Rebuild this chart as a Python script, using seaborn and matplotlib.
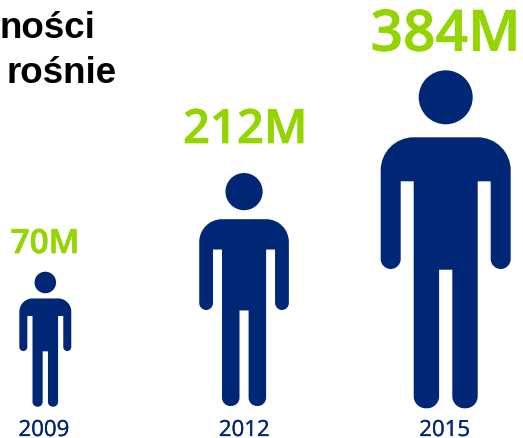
import numpy as np
import matplotlib
matplotlib.use('Agg')
import matplotlib.pyplot as plt
import matplotlib.patheffects as pe
import seaborn as sns
from matplotlib.path import Path
from matplotlib.patches import PathPatch

# values
years = ['2009', '2012', '2015']
labels = ['70M', '212M', '384M']
icon_heights = [135, 233, 338]  # drawn size of each figure, px

label_sizes = [24, 34, 41]
label_gaps = [18.7, 30, 19.6]
foot_shift = [0.3, 1, -1.3]
x_shift = [0.3, -1.3, 0]
navy = '#002776'
green = '#93D500'

W, H = 523, 439
BASE_Y = 408  # feet, px from top
X0, X2 = 45.0, 445.7
PX_PER_CAT = (X2 - X0) / 2


def rounded_poly(pts):
    # pts = (x, y, radius), closed polygon with rounded corners
    verts, codes = [], []
    n = len(pts)
    k = 0.5523
    for i in range(n):
        p = np.array(pts[i][:2], float)
        r = pts[i][2]
        a = np.array(pts[i - 1][:2], float)
        b = np.array(pts[(i + 1) % n][:2], float)
        if r == 0:
            verts.append(p)
            codes.append(Path.MOVETO if i == 0 else Path.LINETO)
            continue
        u = (a - p) / np.linalg.norm(a - p)
        v = (b - p) / np.linalg.norm(b - p)
        verts.append(p + u * r)
        codes.append(Path.MOVETO if i == 0 else Path.LINETO)
        verts += [p + u * r * (1 - k), p + v * r * (1 - k), p + v * r]
        codes += [Path.CURVE4] * 3
    verts.append(verts[0])
    codes.append(Path.CLOSEPOLY)
    return np.array(verts), codes


# outline of the figure at the height of the biggest one (338 px)
body = [(-65, 271, 33), (65, 271, 33), (65, 139.3, 10), (45, 139.3, 10),
        (45, 227, 0), (32, 227, 0), (32, 0, 12), (6.6, 0, 12), (6.6, 138.6, 0),
        (-6.6, 138.6, 0), (-6.6, 0, 12), (-32, 0, 12), (-32, 227, 0),
        (-45, 227, 0), (-45, 139.3, 10), (-65, 139.3, 10)]


def person_path(cx, base, height):
    s = height / 338
    v, c = rounded_poly(body)
    circle = Path.unit_circle()
    hv = circle.vertices * 27 + [0, 311]
    allv = np.vstack([v, hv]) * s
    allv[:, 0] = cx + allv[:, 0] / PX_PER_CAT
    allv[:, 1] = base + allv[:, 1]
    return Path(allv, list(c) + list(circle.codes))


sns.set_theme(style='white')
plt.rcParams['font.family'] = ['Open Sans', 'DejaVu Sans']

fig = plt.figure(figsize=(W / 100, H / 100), dpi=100)
ax = fig.add_axes([0, 0, 1, 1])
sns.barplot(x=years, y=icon_heights, ax=ax, width=0.6, color=navy)

# the bars only carry the scale, the figure is drawn in their place
for i, bar in enumerate(list(ax.patches)):
    bar.set_visible(False)
    cx = bar.get_x() + bar.get_width() / 2
    h = bar.get_height()
    ax.add_patch(PathPatch(person_path(cx + x_shift[i] / PX_PER_CAT, foot_shift[i], h), fc=navy, ec='none'))
    ax.text(cx, h + foot_shift[i] + label_gaps[i], labels[i], color=green, ha='center', va='baseline',
            fontsize=label_sizes[i], fontweight=600,
            path_effects=[pe.withStroke(linewidth=0.5, foreground=green)])

ax.set_xlim(-X0 / PX_PER_CAT, (W - X0) / PX_PER_CAT)
ax.set_ylim(BASE_Y - H, BASE_Y)
ax.set_yticks([])
ax.set_ylabel('')
ax.set_xlabel('')
sns.despine(ax=ax, left=True, bottom=True)

for x, y in zip(ax.get_xticks(), years):
    ax.text(x - 0.005, BASE_Y - 437, y, color=navy, ha='center', va='baseline', fontsize=16,
            path_effects=[pe.withStroke(linewidth=0.2, foreground=navy)])
ax.set_xticks([])

fig.text(-1 / W, 1 - 38 / H, 'ności', fontsize=26.5, fontweight='bold', color='black', family='Liberation Sans')
fig.text(6.5 / W, 1 - 83 / H, 'rośnie', fontsize=26.5, fontweight='bold', color='black', family='Liberation Sans')

fig.savefig('out.png', dpi=100)
